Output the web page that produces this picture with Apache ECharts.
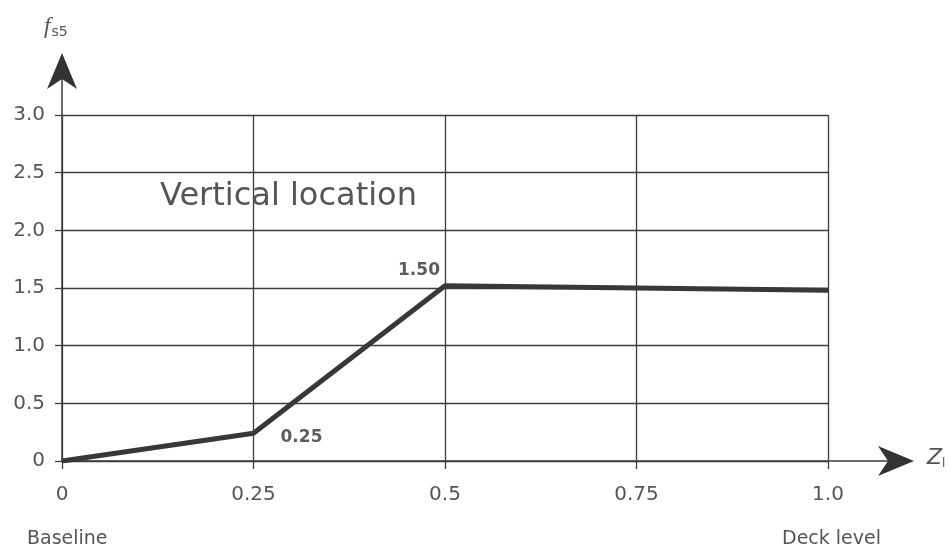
<!DOCTYPE html>
<html><head><meta charset="utf-8">
<script src="https://cdn.jsdelivr.net/npm/echarts@6/dist/echarts.min.js"></script>
<style>html,body{margin:0;padding:0;background:#fff}#c{width:950px;height:552px}</style>
</head><body><div id="c"></div>
<script>
const xValues = [0, 0.25, 0.5, 1.0];
const yValues = [0, 0.24, 1.52, 1.48];
const pointLabels = ["", "0.25", "1.50", ""];
const xTickLabels = {"0": "0", "0.25": "0.25", "0.5": "0.5", "0.75": "0.75", "1": "1.0"};
const yTickLabels = {"0": "0", "0.5": "0.5", "1": "1.0", "1.5": "1.5", "2": "2.0", "2.5": "2.5", "3": "3.0"};
const annotation = "Vertical location";
const xNote = ["Baseline", "Deck level"];

const FONT = "DejaVu Sans, sans-serif";
const GRID = "#3d3d3d";
const TXT = "#555";
const chart = echarts.init(document.getElementById('c'));
chart.setOption({
  animation: false,
  grid: {left: 62, right: 122, top: 115, bottom: 91},
  xAxis: {
    type: 'value', min: 0, max: 1, interval: 0.25,
    axisLine: {show: true, lineStyle: {color: GRID, width: 1.5}},
    axisTick: {show: true, length: 8, lineStyle: {color: GRID, width: 1.3}},
    splitLine: {show: true, lineStyle: {color: GRID, width: 1.3}},
    axisLabel: {color: TXT, fontSize: 20, fontFamily: FONT, margin: 24,
      formatter: v => xTickLabels[String(v)] ?? v}
  },
  yAxis: {
    type: 'value', min: 0, max: 3, interval: 0.5,
    axisLine: {show: true, lineStyle: {color: GRID, width: 1.5}},
    axisTick: {show: true, length: 7, lineStyle: {color: GRID, width: 1.3}},
    splitLine: {show: true, lineStyle: {color: GRID, width: 1.3}},
    axisLabel: {color: TXT, fontSize: 20, fontFamily: FONT, margin: 17,
      formatter: v => yTickLabels[String(v)] ?? v}
  },
  series: [{
    type: 'line',
    data: xValues.map((x, i) => [x, yValues[i]]),
    symbol: 'none',
    lineStyle: {color: '#383838', width: 5},
    z: 5
  }, {
    type: 'scatter',
    data: xValues.map((x, i) => [x, yValues[i]]),
    symbolSize: 0,
    label: {
      show: true, color: '#333', fontSize: 17, fontWeight: 'bold', fontFamily: FONT,
      formatter: p => pointLabels[p.dataIndex]
    },
    labelLayout: function (p) {
      if (p.dataIndex === 1) return {dx: 48, dy: 4};
      if (p.dataIndex === 2) return {dx: -26, dy: -15};
      return {};
    }
  }]
});

const o = chart.convertToPixel({gridIndex: 0}, [0, 0]);
const xe = chart.convertToPixel({gridIndex: 0}, [1, 0]);
const ye = chart.convertToPixel({gridIndex: 0}, [0, 3]);
const ax = xe[0] + 86, ay = ye[1] - 62;
chart.setOption({
  graphic: [
    {type: 'line', shape: {x1: xe[0], y1: o[1], x2: ax - 10, y2: o[1]}, style: {stroke: GRID, lineWidth: 1.5}},
    {type: 'polygon', shape: {points: [[ax, o[1]], [ax - 36, o[1] - 15], [ax - 26, o[1]], [ax - 36, o[1] + 15]]}, style: {fill: '#333'}},
    {type: 'line', shape: {x1: o[0], y1: ye[1], x2: o[0], y2: ay + 10}, style: {stroke: GRID, lineWidth: 1.5}},
    {type: 'polygon', shape: {points: [[o[0], ay], [o[0] - 15, ay + 36], [o[0], ay + 26], [o[0] + 15, ay + 36]]}, style: {fill: '#333'}},
    {type: 'text', left: 44, top: 15, style: {
      text: '{f|f}{s|s5}', rich: {f: {fontSize: 23, fontStyle: 'italic', fontFamily: 'Liberation Serif, serif', fill: TXT},
        s: {fontSize: 14, fontFamily: FONT, fill: TXT, padding: [12, 0, 0, 1]}}}},
    {type: 'text', left: ax + 13, top: o[1] - 14, style: {
      text: '{z|Z}{s|l}', rich: {z: {fontSize: 22, fontStyle: 'italic', fontFamily: FONT, fill: TXT},
        s: {fontSize: 12, fontFamily: FONT, fill: TXT, padding: [12, 0, 0, 0]}}}},
    {type: 'text', left: 160, top: 181, style: {text: annotation, fontSize: 32, fontFamily: FONT, fill: '#555'}},
    {type: 'text', left: 27, top: 530, style: {text: xNote[0], fontSize: 19, fontFamily: FONT, fill: TXT}},
    {type: 'text', left: 782, top: 530, style: {text: xNote[1], fontSize: 19, fontFamily: FONT, fill: TXT}}
  ]
});
</script></body></html>
